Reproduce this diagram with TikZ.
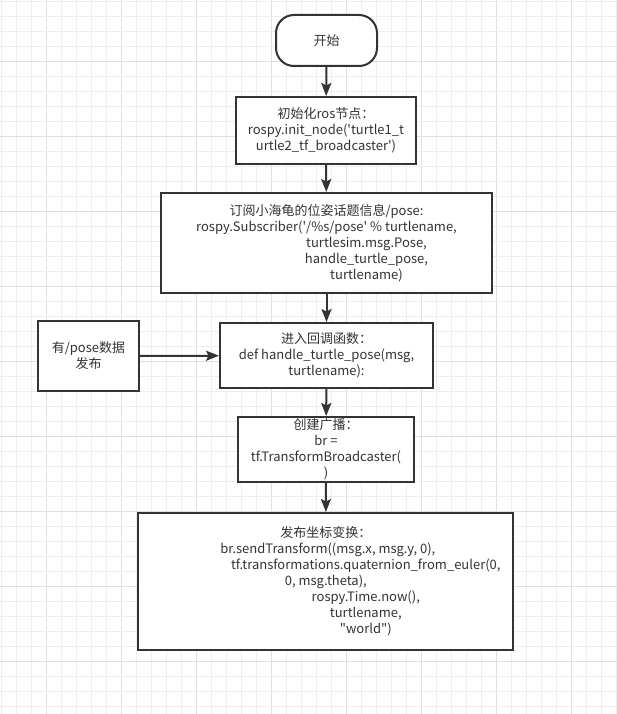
\documentclass[tikz,border=0pt]{standalone}
\usepackage{fontspec}
\setmainfont{Noto Sans CJK SC}[Ligatures=TeXOff]
\usetikzlibrary{arrows.meta}
\definecolor{ink}{HTML}{333333}
\definecolor{gridl}{HTML}{EEEEEE}
\definecolor{gridd}{HTML}{E0E0E0}
\tikzset{
  box/.style={draw=ink, line width=2pt, fill=white, text=ink, align=center,
    inner sep=0pt, font=\fontsize{13}{16}\selectfont},
  term/.style={box, rounded corners=18pt},
  flow/.style={draw=ink, line width=2pt, -{Stealth[length=13pt,width=10pt,inset=2.5pt]}},
}
\begin{document}
\begin{tikzpicture}[x=1pt,y=-1pt]
\useasboundingbox (0,0) rectangle (617,714);
\fill[white] (0,0) rectangle (617,714);
% grid
\foreach \k in {0,...,41}{
  \pgfmathtruncatemacro{\m}{mod(\k,5)}
  \ifnum\m=3 \def\gc{gridd}\else\def\gc{gridl}\fi
  \draw[\gc, line width=1pt] ({1+15*\k},0) -- ({1+15*\k},714);
}
\foreach \k in {0,...,47}{
  \pgfmathtruncatemacro{\m}{mod(\k,5)}
  \ifnum\m=4 \def\gc{gridd}\else\def\gc{gridl}\fi
  \draw[\gc, line width=1pt] (0,{1.7+15*\k}) -- (617,{1.7+15*\k});
}
% nodes
\node[term, minimum width=101pt, minimum height=51pt] (start) at (326.5,40.5) {开始};
\node[box, minimum width=180pt, minimum height=67pt] (init) at (326,130.5)
  {初始化ros节点：\\rospy.init\_node('turtle1\_t\\urtle2\_tf\_broadcaster')};
\node[box, minimum width=331pt, minimum height=100pt] (sub) at (326.5,243)
  {订阅小海龟的位姿话题信息/pose:\\rospy.Subscriber('/\%s/pose' \% turtlename,\\
   \hspace*{80pt}turtlesim.msg.Pose,\\\hspace*{80pt}handle\_turtle\_pose,\\
   \hspace*{80pt}turtlename)};
\node[box, minimum width=101pt, minimum height=70pt] (pub) at (88.5,356)
  {有/pose数据\\发布};
\node[box, minimum width=213pt, minimum height=65pt] (cb) at (326.5,355.5)
  {进入回调函数：\\def handle\_turtle\_pose(msg,\\turtlename):};
\node[box, minimum width=176pt, minimum height=65pt] (br) at (326,449.5)
  {创建广播：\\br =\\tf.TransformBroadcaster(\\)};
\node[box, minimum width=375pt, minimum height=137pt] (send) at (325.8,581.5)
  {发布坐标变换：\\\hspace*{4pt}br.sendTransform((msg.x, msg.y, 0),\\
   \hspace*{80pt}tf.transformations.quaternion\_from\_euler(0,\\
   0, msg.theta),\\\hspace*{80pt}rospy.Time.now(),\\
   \hspace*{80pt}turtlename,\\\hspace*{80pt}"world")};
% connectors
\draw[flow] (start) -- (init);
\draw[flow] (init) -- (sub);
\draw[flow] (sub) -- (cb);
\draw[flow] (pub) -- (cb);
\draw[flow] (cb) -- (br);
\draw[flow] (br) -- (send);
\end{tikzpicture}
\end{document}
